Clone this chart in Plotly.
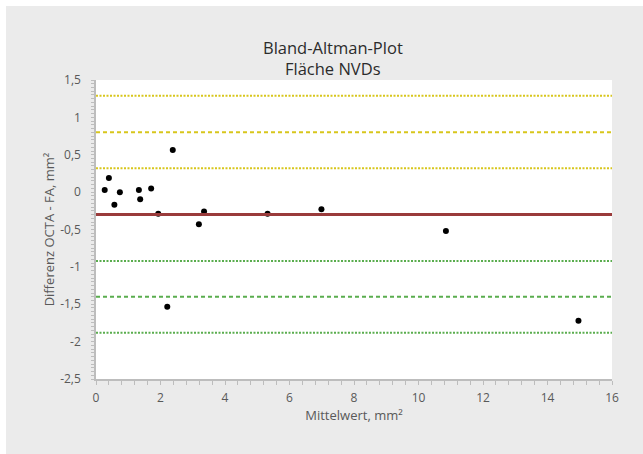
import plotly.graph_objects as go

# Data
mittelwert = [0.27, 0.40, 0.57, 0.74, 1.33, 1.37, 1.71, 1.93, 2.38, 3.19, 3.35, 5.32, 6.99, 10.85, 2.21, 14.96]
differenz = [0.03, 0.19, -0.17, 0.0, 0.03, -0.095, 0.05, -0.29, 0.565, -0.43, -0.26, -0.29, -0.23, -0.52, -1.535, -1.72]

mean_diff = -0.30
loa_upper = 0.80
loa_lower = -1.40
ci_upper = [0.32, 1.29]
ci_lower = [-0.92, -1.88]

x_ticks = [0, 2, 4, 6, 8, 10, 12, 14, 16]
y_ticks = [1.5, 1, 0.5, 0, -0.5, -1, -1.5, -2, -2.5]
y_ticklabels = ["1,5", "1", "0,5", "0", "-0,5", "-1", "-1,5", "-2", "-2,5"]

YELLOW = "#d8c61c"
GREEN = "#5aad4e"
RED = "#9a3b3b"
AXIS = "#bdbdbd"
TXT = "#595959"

fig = go.Figure()

fig.add_trace(go.Scatter(
    x=mittelwert, y=differenz, mode="markers",
    marker=dict(color="black", size=6),
    showlegend=False, hoverinfo="x+y",
))

for yv in ci_upper:
    fig.add_hline(y=yv, line=dict(color=YELLOW, width=2, dash="2px,1.5px"))
fig.add_hline(y=loa_upper, line=dict(color=YELLOW, width=2, dash="4px,3px"))
fig.add_hline(y=mean_diff, line=dict(color=RED, width=3))
fig.add_hline(y=loa_lower, line=dict(color=GREEN, width=2, dash="4px,3px"))
for yv in ci_lower:
    fig.add_hline(y=yv, line=dict(color=GREEN, width=2, dash="2px,1.5px"))

OFF = 6  # page offset of the figure (white border in the reference)
W, H = 643 - OFF, 454 - OFF
L, R, T, B = 95.5 - OFF, 31, 80 - OFF, 75
pw = W - L - R
ph = H - T - B


def px_x(sx):
    return (sx - OFF - L) / pw


def px_y(sy):
    return (H - B - (sy - OFF)) / ph


title_font = dict(family="Open Sans, sans-serif", size=16.5, color="#2b2b2b")
fig.add_annotation(text="Bland-Altman-Plot", xref="paper", yref="paper",
                   x=px_x(333), y=px_y(47), xanchor="center", yanchor="middle",
                   showarrow=False, font=title_font)
fig.add_annotation(text="Fläche NVDs", xref="paper", yref="paper",
                   x=px_x(333), y=px_y(68), xanchor="center", yanchor="middle",
                   showarrow=False, font=title_font)

fig.update_layout(
    width=W, height=H,
    margin=dict(l=L, r=R, t=T, b=B, pad=0),
    paper_bgcolor="#ebebeb",
    plot_bgcolor="white",
    font=dict(family="Open Sans, sans-serif", size=12, color=TXT),
    showlegend=False,
    xaxis=dict(
        range=[0, 16], tickvals=x_ticks, ticktext=[str(v) for v in x_ticks],
        showgrid=False, zeroline=False, showline=True, linecolor=AXIS, linewidth=1.5,
        ticks="outside", ticklen=4, tickcolor=AXIS, tickwidth=1,
        minor=dict(dtick=0.4, ticks="outside", ticklen=4, tickcolor=AXIS, showgrid=False),
        ticklabelstandoff=3,
        tickfont=dict(size=12, color=TXT),
        title=dict(text="Mittelwert, mm²", font=dict(size=13, color=TXT), standoff=6),
    ),
    yaxis=dict(
        range=[-2.5, 1.5], tickvals=y_ticks, ticktext=y_ticklabels,
        showgrid=False, zeroline=False, showline=True, linecolor=AXIS, linewidth=1.5,
        ticks="outside", ticklen=3, tickcolor=AXIS, tickwidth=1,
        minor=dict(dtick=0.05, ticks="outside", ticklen=3, tickcolor=AXIS, showgrid=False),
        ticklabelstandoff=8,
        tickfont=dict(size=12, color=TXT),
        title=dict(text="Differenz OCTA - FA, mm²", font=dict(size=13, color=TXT), standoff=3),
    ),
)

fig.write_html(
    "out.html",
    post_script="document.body.style.margin='%dpx 0 0 %dpx';document.body.style.overflow='hidden';" % (OFF, OFF),
)
